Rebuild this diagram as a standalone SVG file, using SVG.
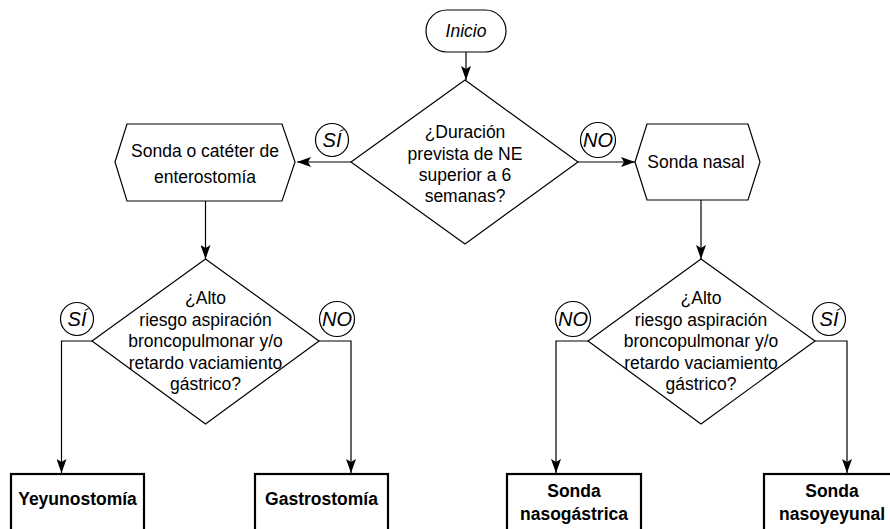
<svg xmlns="http://www.w3.org/2000/svg" width="890" height="529" viewBox="0 0 890 529">
<style>
.shape{fill:#fff;stroke:#000;stroke-width:1.2}
.box{fill:#fff;stroke:#000;stroke-width:2.2}
.conn{fill:none;stroke:#000;stroke-width:1.2}
text{font-family:"Liberation Sans",Arial,sans-serif;font-size:17.5px;fill:#000;text-anchor:middle}
.it{font-style:italic}
.lbl{font-style:italic;font-size:20px}
.b{font-weight:bold}
</style>
<defs>
<marker id="arr" viewBox="0 0 14 10" refX="14" refY="5" markerWidth="14" markerHeight="10" markerUnits="userSpaceOnUse" orient="auto">
<path d="M0,0 L14,5 L0,10 L3,5 Z" fill="#000"/>
</marker>
</defs>
<rect width="890" height="529" fill="#fff"/>
<g id="connectors">
<path class="conn" d="M466,52 V80" marker-end="url(#arr)"/>
<path class="conn" d="M351,162 H297" marker-end="url(#arr)"/>
<path class="conn" d="M578,162 H635" marker-end="url(#arr)"/>
<path class="conn" d="M205.5,201 V259" marker-end="url(#arr)"/>
<path class="conn" d="M701,200 V259" marker-end="url(#arr)"/>
<path class="conn" d="M92,341 H61.5 V473" marker-end="url(#arr)"/>
<path class="conn" d="M319,341 H351 V473" marker-end="url(#arr)"/>
<path class="conn" d="M588,341 H556 V473" marker-end="url(#arr)"/>
<path class="conn" d="M815,341 H847 V473" marker-end="url(#arr)"/>
</g>
<g id="inicio">
<rect class="shape" x="426" y="10" width="80" height="42" rx="21" ry="21"/>
<text class="it" x="466" y="37">Inicio</text>
</g>
<g id="d1">
<polygon class="shape" points="465,80 578,162 465,244 351,162"/>
<text x="465" y="138">¿Duración</text>
<text x="465" y="160">prevista de NE</text>
<text x="465" y="181">superior a 6</text>
<text x="465" y="202">semanas?</text>
</g>
<g id="l1si">
<circle class="shape" cx="332" cy="140" r="16.5"/>
<text class="lbl" x="332" y="147">SÍ</text>
</g>
<g id="l1no">
<circle class="shape" cx="598" cy="140" r="17.5"/>
<text class="lbl" x="598" y="147">NO</text>
</g>
<g id="hex1">
<polygon class="shape" points="115,162 127,124 282,124 295,162 282,201 127,201"/>
<text x="205" y="157">Sonda o catéter de</text>
<text x="205" y="183">enterostomía</text>
</g>
<g id="hex2">
<polygon class="shape" points="635,162 647,124 748,124 760,162 748,200 647,200"/>
<text x="696" y="168">Sonda nasal</text>
</g>
<g id="d2">
<polygon class="shape" points="205.5,259 319,341 205.5,424 92,341"/>
<text x="205.5" y="304">¿Alto</text>
<text x="205.5" y="325.5">riesgo aspiración</text>
<text x="205.5" y="347">broncopulmonar y/o</text>
<text x="205.5" y="368.5">retardo vaciamiento</text>
<text x="205.5" y="390">gástrico?</text>
</g>
<g id="l2si">
<circle class="shape" cx="77" cy="319" r="16.5"/>
<text class="lbl" x="77" y="326">SÍ</text>
</g>
<g id="l2no">
<circle class="shape" cx="337" cy="319" r="17.5"/>
<text class="lbl" x="337" y="326">NO</text>
</g>
<g id="d3">
<polygon class="shape" points="701,259 815,341 701,424 588,341"/>
<text x="701" y="304">¿Alto</text>
<text x="701" y="325.5">riesgo aspiración</text>
<text x="701" y="347">broncopulmonar y/o</text>
<text x="701" y="368.5">retardo vaciamiento</text>
<text x="701" y="390">gástrico?</text>
</g>
<g id="l3no">
<circle class="shape" cx="573" cy="319" r="17.5"/>
<text class="lbl" x="573" y="326">NO</text>
</g>
<g id="l3si">
<circle class="shape" cx="829" cy="319" r="16.5"/>
<text class="lbl" x="829" y="326">SÍ</text>
</g>
<g id="yeyunostomia">
<rect class="box" x="11" y="474" width="133" height="70"/>
<text class="b" x="77.5" y="505">Yeyunostomía</text>
</g>
<g id="gastrostomia">
<rect class="box" x="255" y="474" width="133" height="70"/>
<text class="b" x="321.5" y="505">Gastrostomía</text>
</g>
<g id="nasogastrica">
<rect class="box" x="507" y="474" width="134" height="70"/>
<text class="b" x="574" y="497">Sonda</text>
<text class="b" x="574" y="519.5">nasogástrica</text>
</g>
<g id="nasoyeyunal">
<rect class="box" x="764" y="474" width="136" height="70"/>
<text class="b" x="832" y="497">Sonda</text>
<text class="b" x="832" y="519.5">nasoyeyunal</text>
</g>
</svg>
